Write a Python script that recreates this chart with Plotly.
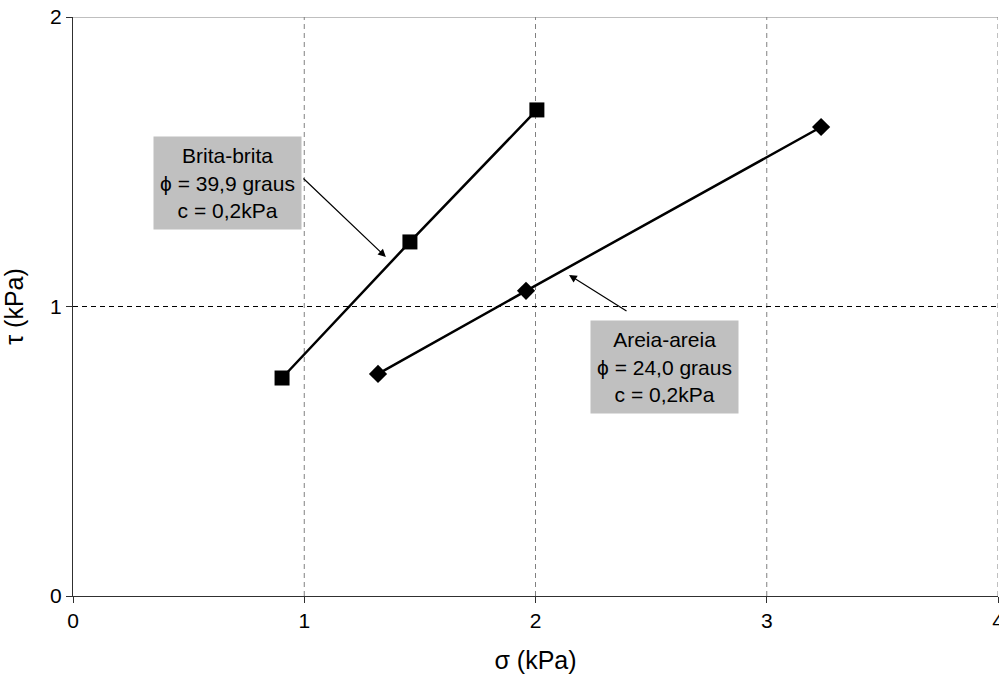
import plotly.graph_objects as go

# Data
brita_sigma = [0.904, 1.457, 2.006]
brita_tau = [0.753, 1.223, 1.679]
areia_sigma = [1.319, 1.959, 3.235]
areia_tau = [0.767, 1.054, 1.620]

x_ticks = [0, 1, 2, 3, 4]
y_ticks = [0, 1, 2]

brita_label = "Brita-brita<br>ϕ = 39,9 graus<br>c = 0,2kPa"
areia_label = "Areia-areia<br>ϕ = 24,0 graus<br>c = 0,2kPa"

FONT = "Arial, Liberation Sans, sans-serif"

fig = go.Figure()
fig.add_trace(go.Scatter(
    x=brita_sigma, y=brita_tau, mode="lines+markers",
    line=dict(color="black", width=2.5),
    marker=dict(symbol="square", size=15, color="black"),
    showlegend=False, cliponaxis=False))
fig.add_trace(go.Scatter(
    x=areia_sigma, y=areia_tau, mode="lines+markers",
    line=dict(color="black", width=2.5),
    marker=dict(symbol="diamond", size=14, color="black"),
    showlegend=False, cliponaxis=False))

shapes = []
for xv in x_ticks[1:]:
    shapes.append(dict(type="line", xref="x", yref="y", x0=xv, x1=xv, y0=0, y1=2,
                       line=dict(color="#808080", width=1, dash="5px,4px"), layer="below"))
shapes.append(dict(type="line", xref="x", yref="y", x0=0, x1=4, y0=y_ticks[1], y1=y_ticks[1],
                   line=dict(color="black", width=1, dash="5px,4px"), layer="below"))
shapes.append(dict(type="line", xref="x", yref="y", x0=0, x1=4, y0=y_ticks[2], y1=y_ticks[2],
                   line=dict(color="#808080", width=1), layer="below"))

annotations = [
    dict(x=0.666, y=1.427, xref="x", yref="y", text=brita_label, showarrow=False,
         bgcolor="#c0c0c0", borderpad=4, height=84, width=139,
         font=dict(family=FONT, size=21, color="black")),
    dict(x=2.557, y=0.792, xref="x", yref="y", text=areia_label, showarrow=False,
         bgcolor="#c0c0c0", borderpad=4, height=84, width=139,
         font=dict(family=FONT, size=21, color="black")),
    dict(x=1.353, y=1.171, ax=0.990, ay=1.447, xref="x", yref="y", axref="x", ayref="y",
         text="", showarrow=True, arrowhead=2, arrowsize=1.3, arrowwidth=1.2, arrowcolor="black"),
    dict(x=2.145, y=1.109, ax=2.400, ay=0.981, xref="x", yref="y", axref="x", ayref="y",
         text="", showarrow=True, arrowhead=2, arrowsize=1.3, arrowwidth=1.2, arrowcolor="black"),
]

fig.update_layout(
    width=999, height=682,
    margin=dict(l=73, r=1, t=17, b=86),
    paper_bgcolor="white", plot_bgcolor="white",
    font=dict(family=FONT, size=21, color="black"),
    shapes=shapes, annotations=annotations,
    xaxis=dict(range=[0, 4], tickvals=x_ticks, showgrid=False, zeroline=False,
               showline=True, linecolor="#303030", linewidth=1,
               ticks="outside", ticklen=6, tickcolor="#303030",
               ticklabeloverflow="allow", automargin=False,
               title=dict(text="σ (kPa)", standoff=20), fixedrange=True),
    yaxis=dict(range=[0, 2], tickvals=y_ticks, showgrid=False, zeroline=False,
               showline=True, linecolor="#303030", linewidth=1,
               ticks="outside", ticklen=6, tickcolor="#303030",
               automargin=False,
               title=dict(text="τ (kPa)", standoff=22), fixedrange=True),
)

fig.write_html("out.html")
